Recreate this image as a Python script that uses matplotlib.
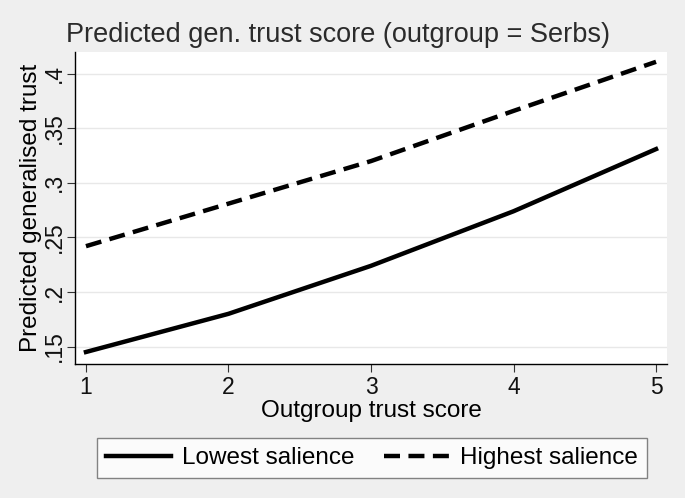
import matplotlib.pyplot as plt
import numpy as np

plt.rcParams['font.family'] = ['Liberation Sans', 'DejaVu Sans']

# data
outgroup_trust = [1, 2, 3, 4, 5]
lowest_salience = [0.145, 0.180, 0.224, 0.274, 0.331]
highest_salience = [0.242, 0.281, 0.320, 0.366, 0.411]
y_ticks = [0.15, 0.2, 0.25, 0.3, 0.35, 0.4]
y_tick_labels = ['.15', '.2', '.25', '.3', '.35', '.4']

bg = '#efefef'
fig = plt.figure(figsize=(6.85, 4.98), dpi=100, facecolor=bg)
ax = fig.add_axes([75 / 685, 1 - 364 / 498, (667 - 75) / 685, (364 - 52) / 498])
ax.set_facecolor('white')

ax.plot(outgroup_trust, lowest_salience, color='black', linewidth=3.2,
        label='Lowest salience')
ax.plot(outgroup_trust, highest_salience, color='black', linewidth=3.2,
        dashes=(3.6, 1.9), label='Highest salience')

ax.set_xlim(0.923, 5.077)
ax.set_ylim(0.134, 0.42)
ax.set_xticks(outgroup_trust)
ax.set_yticks(y_ticks)
ax.set_yticklabels(y_tick_labels, rotation=90, va='center')
ax.tick_params(labelsize=16.5, length=6, width=0.8, color='#333333',
               labelcolor='#111111')
ax.tick_params(axis='y', pad=0.5)
ax.tick_params(axis='x', pad=3)
ax.grid(axis='y', color='#e8e8e8', linewidth=1)
ax.set_axisbelow(True)

for side in ['top', 'right']:
    ax.spines[side].set_visible(False)
for side in ['left', 'bottom']:
    ax.spines[side].set_linewidth(1)

ax.set_xlabel('Outgroup trust score', fontsize=17.5, labelpad=0)
ax.set_ylabel('Predicted generalised trust', fontsize=17.5, labelpad=1)
fig.text(66 / 685, 1 - 42 / 498, 'Predicted gen. trust score (outgroup = Serbs)',
         fontsize=19.5, va='baseline', ha='left', color='#2b2b2b')

leg = fig.legend(loc='center', bbox_to_anchor=(372 / 685, 1 - 458 / 498), ncol=2,
                 fontsize=17.5, frameon=True, fancybox=False, edgecolor='#666666',
                 handlelength=2.7, columnspacing=1.2, borderpad=0.35,
                 handletextpad=0.45)
leg.get_frame().set_linewidth(1)

fig.savefig('out.png', dpi=100, facecolor=bg)
